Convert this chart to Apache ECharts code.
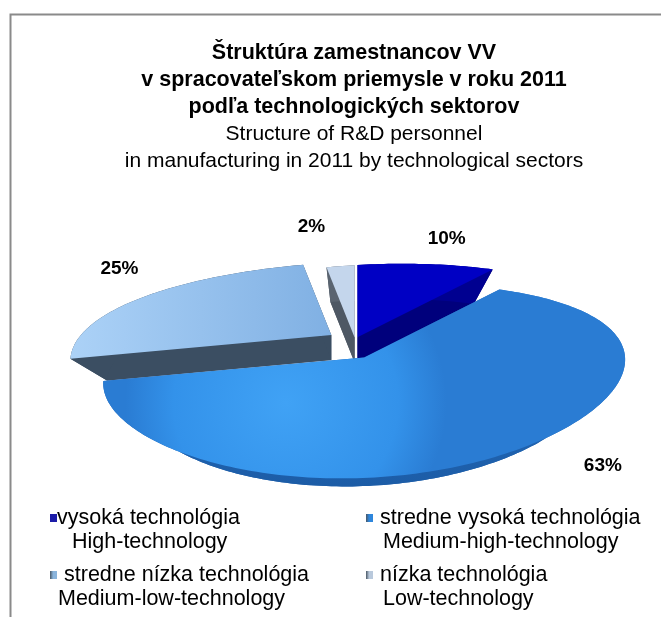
<!DOCTYPE html>
<html><head><meta charset="utf-8">
<script src="https://cdn.jsdelivr.net/npm/echarts@6/dist/echarts.min.js"></script>
<style>html,body{margin:0;padding:0;background:#fff}#c{width:661px;height:617px}</style>
</head><body><div id="c"></div>
<script>
// ---- data ----
const titleLines = ['Štruktúra zamestnancov VV', 'v spracovateľskom priemysle v roku 2011', 'podľa technologických sektorov'];
const subtitleLines = ['Structure of R&D personnel', 'in manufacturing in 2011 by technological sectors'];
const categoriesSk = ['vysoká technológia', 'stredne vysoká technológia', 'stredne nízka technológia', 'nízka technológia'];
const categoriesEn = ['High-technology', 'Medium-high-technology', 'Medium-low-technology', 'Low-technology'];
const shares = [10, 63, 25, 2];

// ---- layout / style ----
const G = {cx: 355, cy: 338.8, R: 258, A: 90.4, Bx: 0.15, By: 0.25, T: 12, k: 0.86, D: 25, oyUp: 0.2, oyDown: 1.2};
const explodePx = [8, 18, 30, 6];
const labelNudge = [[-1, -6], [24, -31], [33, -17], [-25, -21]];
const topColors = [
  '#0000C4',
  {type: 'radial', x: 0.35, y: 0.6, r: 0.85, colorStops: [{offset: 0, color: '#40a2f5'}, {offset: 0.7, color: '#3392ea'}, {offset: 1, color: '#2a7cd3'}]},
  {type: 'linear', x: 0, y: 0, x2: 1, y2: 0, colorStops: [{offset: 0, color: '#acd2f7'}, {offset: 1, color: '#80b0e3'}]},
  '#c4d6ec'
];
const sideColors = ['#00007c', '#1d5fae', '#3b4e62', '#4e5864'];
const bandColors = ['#000090',
  {type: 'linear', x: 0, y: 0, x2: 0, y2: 1, colorStops: [{offset: 0, color: '#2c7ad0'}, {offset: 1, color: '#1c5ca6'}]},
  '#3b4e62', '#5a6470'];
const legendColors = ['#1c1ca8', '#2e86dc', '#8ab4dc', '#b9c9dc'];
const FONT = 'Arial, "Liberation Sans", sans-serif';

const total = shares.reduce((a, b) => a + b, 0);
const cum = [0];
shares.forEach(v => cum.push(cum[cum.length - 1] + v));

function projTop(u, v) { return [G.cx + G.R * u / (1 - G.Bx * v), G.cy + G.A * v / (1 - G.By * v) - G.T * u]; }
function projBot(u, v) { const p = projTop(u, v); return [G.cx + (p[0] - G.cx) * G.k, G.cy + (p[1] - G.cy) * G.k + G.D]; }

// draw order: far slices first
const mids = shares.map((v, i) => (cum[i] + v / 2) / total * Math.PI * 2);
const order = mids.map((m, i) => i).sort((a, b) => (-Math.cos(mids[a])) - (-Math.cos(mids[b])));
const rank = [];
order.forEach((idx, r) => rank[idx] = r);

function renderItem(params, api) {
  const i = params.dataIndex;
  const val = api.value(0);
  const a0 = cum[i] / total * Math.PI * 2;
  const a1 = a0 + val / total * Math.PI * 2;
  const mid = (a0 + a1) / 2;
  const dy = -Math.cos(mid);
  const ox = explodePx[i] * Math.sin(mid), oy = explodePx[i] * dy * (dy > 0 ? G.oyDown : G.oyUp);
  const sh = p => [p[0] + ox, p[1] + oy];
  const n = Math.max(2, Math.ceil((a1 - a0) / 0.02));
  const arc = [];
  for (let s = 0; s <= n; s++) {
    const t = a0 + (a1 - a0) * s / n;
    arc.push([Math.sin(t), -Math.cos(t)]);
  }
  const cT = sh(projTop(0, 0)), cB = sh(projBot(0, 0));
  const arcT = arc.map(p => sh(projTop(p[0], p[1])));
  const arcB = arc.map(p => sh(projBot(p[0], p[1])));
  const z = rank[i] * 10;
  const children = [];
  children.push({type: 'polygon', z2: z, shape: {points: [cB].concat(arcB)}, style: {fill: sideColors[i]}});
  children.push({type: 'polygon', z2: z + 1, shape: {points: [cT, arcT[0], arcB[0], cB]}, style: {fill: sideColors[i]}});
  children.push({type: 'polygon', z2: z + 1, shape: {points: [cT, arcT[n], arcB[n], cB]}, style: {fill: sideColors[i]}});
  children.push({type: 'polygon', z2: z + 2, shape: {points: arcT.concat(arcB.slice().reverse())}, style: {fill: bandColors[i]}});
  children.push({type: 'polygon', z2: z + 3, shape: {points: [cT].concat(arcT)}, style: {fill: topColors[i]}});
  const lr = 1.35;
  const lp = sh(projTop(lr * Math.sin(mid), -lr * Math.cos(mid)));
  children.push({type: 'text', z2: 100, x: lp[0] + labelNudge[i][0], y: lp[1] + labelNudge[i][1],
    style: {text: Math.round(val / total * 100) + '%', fontFamily: FONT, fontSize: 19, fontWeight: 'bold', fill: '#000', align: 'center', verticalAlign: 'middle'}});
  return {type: 'group', children: children};
}

// legend built from the categories
const legendGraphics = [];
const colX = [50, 366], rowY = [518, 575];
const textGap = [7, 14, 14, 14];
const line2Gap = [22, 17, 8, 17];
categoriesSk.forEach((name, i) => {
  const x = colX[i % 2], y = rowY[Math.floor(i / 2)];
  legendGraphics.push({type: 'rect', left: x, top: y - 4, shape: {width: 7, height: 8},
    style: {fill: i === 0 ? legendColors[i] : {type: 'linear', x: 0, y: 0, x2: 1, y2: 0, colorStops: [{offset: 0, color: '#4a5866'}, {offset: 0.45, color: legendColors[i]}, {offset: 1, color: legendColors[i]}]}}});
  legendGraphics.push({type: 'text', x: x + textGap[i], y: y,
    style: {text: name, fontFamily: FONT, fontSize: 21.5, fill: '#000', verticalAlign: 'middle'}});
  legendGraphics.push({type: 'text', x: x + line2Gap[i], y: y + 24,
    style: {text: categoriesEn[i], fontFamily: FONT, fontSize: 21.5, fill: '#000', verticalAlign: 'middle'}});
});

const titleTop = 39.5;
const titleGraphics = [
  {type: 'text', x: 354, y: titleTop, style: {text: titleLines.join('\n'), fontFamily: FONT, fontSize: 21.5, fontWeight: 'bold', lineHeight: 27, fill: '#000', align: 'center', verticalAlign: 'top'}},
  {type: 'text', x: 354, y: titleTop + 27 * titleLines.length, style: {text: subtitleLines.join('\n'), fontFamily: FONT, fontSize: 21, lineHeight: 27, fill: '#000', align: 'center', verticalAlign: 'top'}}
];

const chart = echarts.init(document.getElementById('c'));
chart.setOption({
  animation: false,
  graphic: [
    {type: 'rect', left: 8, top: 12, shape: {width: 720, height: 700}, style: {fill: 'none', stroke: '#8a8a8a', lineWidth: 2}, silent: true}
  ].concat(titleGraphics, legendGraphics),
  series: [{
    type: 'custom',
    coordinateSystem: 'none',
    renderItem: renderItem,
    data: shares.map(v => [v])
  }]
});
</script>
</body></html>
